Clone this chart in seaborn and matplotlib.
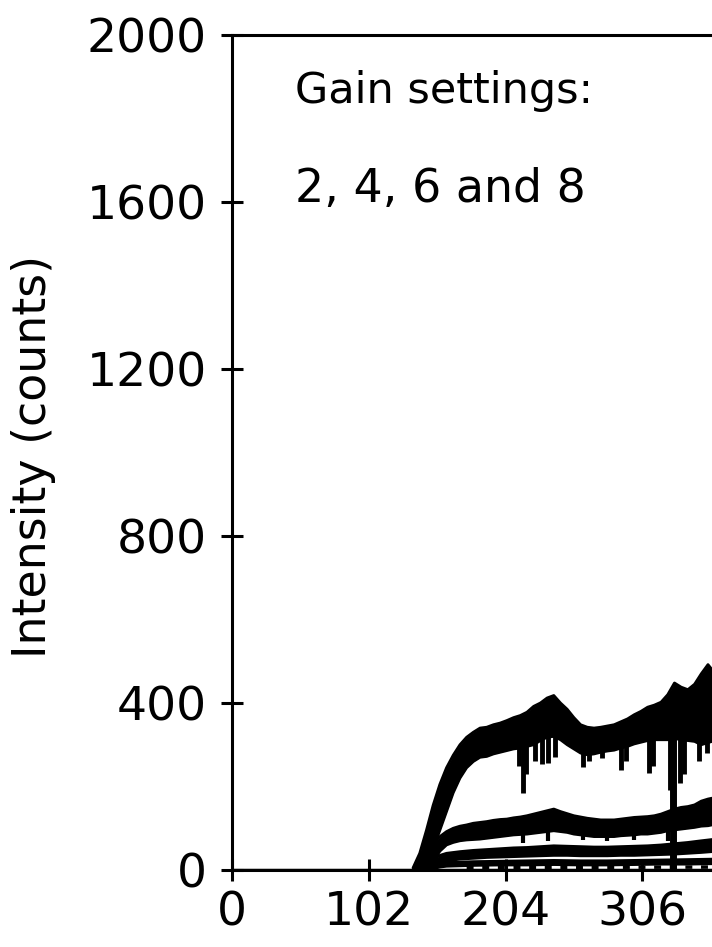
import numpy as np
import pandas as pd
import matplotlib
matplotlib.use("Agg")
import matplotlib.pyplot as plt
import seaborn as sns

# ---------------- data ----------------
x_ticks = [0, 102, 204, 306]
y_ticks = [0, 400, 800, 1200, 1600, 2000]
title_lines = ["Gain settings:", "2, 4, 6 and 8"]
y_label = "Intensity (counts)"

# gain 8 (top trace): upper / lower envelope
g8_x = [135, 140, 145, 150, 155, 160, 165, 170, 175, 180, 185, 190, 195, 200, 205,
        210, 215, 220, 225, 230, 235, 240, 245, 250, 255, 260, 265, 270, 275, 280,
        285, 290, 295, 300, 305, 310, 315, 320, 325, 330, 335, 340, 345, 350, 355, 358]
g8_hi = [5, 40, 95, 155, 205, 245, 275, 300, 318, 330, 340, 342, 348, 352, 358,
         365, 370, 378, 392, 400, 412, 418, 400, 385, 365, 348, 342, 340, 342, 345,
         348, 355, 362, 372, 380, 390, 395, 402, 420, 448, 438, 432, 445, 470, 492, 480]
g8_lo = [0, 5, 20, 50, 95, 140, 185, 220, 245, 260, 270, 272, 278, 282, 286,
         290, 292, 296, 300, 310, 318, 320, 312, 300, 290, 280, 276, 278, 282, 285,
         287, 292, 296, 302, 306, 310, 312, 312, 312, 315, 312, 310, 308, 300, 305, 308]
g8_dip_x = [214, 217, 219, 226, 231, 236, 241, 262, 266, 276, 290, 294, 311, 314, 327, 334, 337, 348, 354]
g8_dip_y = [250, 184, 230, 260, 255, 256, 270, 247, 262, 268, 240, 262, 232, 250, 192, 208, 230, 262, 280]

# gain 6
g6_x = [138, 140, 145, 150, 155, 160, 165, 170, 175, 180, 185, 190, 195, 200, 205,
        210, 215, 220, 225, 230, 235, 240, 245, 250, 255, 260, 265, 270, 275, 280,
        285, 290, 295, 300, 305, 310, 315, 320, 325, 330, 335, 340, 345, 350, 355, 358]
g6_hi = [0, 10, 35, 62, 80, 92, 100, 105, 108, 112, 114, 116, 119, 121, 122,
         125, 127, 130, 134, 138, 142, 146, 140, 135, 130, 127, 124, 122, 120, 120,
         120, 122, 124, 126, 127, 128, 130, 134, 140, 146, 150, 152, 156, 165, 170, 172]
g6_lo = [0, 0, 5, 20, 45, 60, 66, 70, 72, 73, 74, 76, 78, 80, 82,
         84, 85, 86, 88, 90, 92, 94, 92, 90, 86, 84, 82, 80, 80, 80,
         80, 82, 83, 84, 86, 86, 88, 90, 94, 96, 98, 100, 102, 105, 106, 108]
g6_dip_x = [217, 236, 262, 280, 300, 325]
g6_dip_y = [65, 70, 72, 70, 72, 70]

# gain 4
g4_x = [140, 145, 150, 155, 160, 170, 180, 190, 200, 210, 220, 230, 240, 250, 260,
        270, 280, 290, 300, 310, 320, 330, 340, 350, 358]
g4_hi = [0, 12, 25, 35, 40, 44, 47, 49, 51, 53, 54, 56, 58, 57, 56,
         55, 55, 56, 57, 58, 60, 63, 66, 70, 73]
g4_lo = [0, 0, 5, 15, 22, 26, 28, 30, 31, 32, 33, 34, 35, 35, 34,
         34, 34, 35, 35, 36, 37, 38, 40, 42, 44]

# gain 2
g2_x = [140, 145, 150, 155, 160, 180, 200, 220, 240, 260, 280, 300, 320, 340, 358]
g2_hi = [0, 6, 12, 16, 18, 20, 21, 22, 23, 22, 22, 23, 24, 25, 26]
g2_lo = [0, 0, 3, 7, 9, 11, 12, 12, 13, 12, 12, 13, 14, 14, 15]

# near-zero dotted trace and the tall glitch
dot_x = [175, 358]
dot_y = [6, 7]
glitch_x = [329]
glitch_top = [425]

# ---------------- figure ----------------
sns.set_style("ticks")
plt.rcParams['font.family'] = ['DejaVu Sans']

W, H = 712, 947
fig = plt.figure(figsize=(W / 100, H / 100), dpi=100)
left, bottom = 232 / W, 1 - 870 / H
top = 1 - 35 / H
ax = fig.add_axes([left, bottom, 1 - left, top - bottom])

k = "black"
series = [(g8_x, g8_hi, g8_lo), (g6_x, g6_hi, g6_lo), (g4_x, g4_hi, g4_lo), (g2_x, g2_hi, g2_lo)]
for xs, hi, lo in series:
    ax.fill_between(xs, lo, hi, color=k, linewidth=0)
    df = pd.DataFrame({"x": xs + xs, "y": hi + lo, "e": ["hi"] * len(xs) + ["lo"] * len(xs)})
    sns.lineplot(data=df, x="x", y="y", units="e", estimator=None, color=k,
                 linewidth=2.0, ax=ax, legend=False)

# downward spikes
ax.vlines(g8_dip_x, g8_dip_y, np.interp(g8_dip_x, g8_x, g8_lo) + 10, color=k, linewidth=3.5)
ax.vlines(g6_dip_x, g6_dip_y, np.interp(g6_dip_x, g6_x, g6_lo) + 5, color=k, linewidth=3.0)
ax.vlines(glitch_x, 0, glitch_top, color=k, linewidth=5)

sns.lineplot(x=dot_x, y=dot_y, color=k, linewidth=2.5, linestyle=(0, (2, 2.5)), ax=ax)
ax.plot([0, 358], [1, 1], color=k, linewidth=2.5)

ax.set_xlim(0, 358)
ax.set_ylim(0, 2000)
ax.set_xticks(x_ticks)
ax.set_yticks(y_ticks)
ax.set_xticklabels([str(v) for v in x_ticks])
ax.set_yticklabels([str(v) for v in y_ticks])
ax.set_xlabel("")
ax.set_ylabel("")

for s in ["left", "bottom", "top"]:
    ax.spines[s].set_visible(True)
    ax.spines[s].set_linewidth(2.2)
    ax.spines[s].set_color(k)
ax.spines["right"].set_visible(False)

ax.tick_params(axis="both", direction="inout", length=16, width=2.2, color=k,
               labelsize=34, labelcolor=k)
ax.tick_params(axis="y", pad=10)
ax.tick_params(axis="x", pad=7)

ax.text(47, 1865, title_lines[0], fontsize=31, ha="left", va="center", color=k)
ax.text(47, 1630, title_lines[1], fontsize=33, ha="left", va="center", color=k)

fig.text(34 / W, 1 - 456 / H, y_label, rotation=90, fontsize=33,
         ha="center", va="center", color=k)

fig.savefig("out.png", dpi=100)
